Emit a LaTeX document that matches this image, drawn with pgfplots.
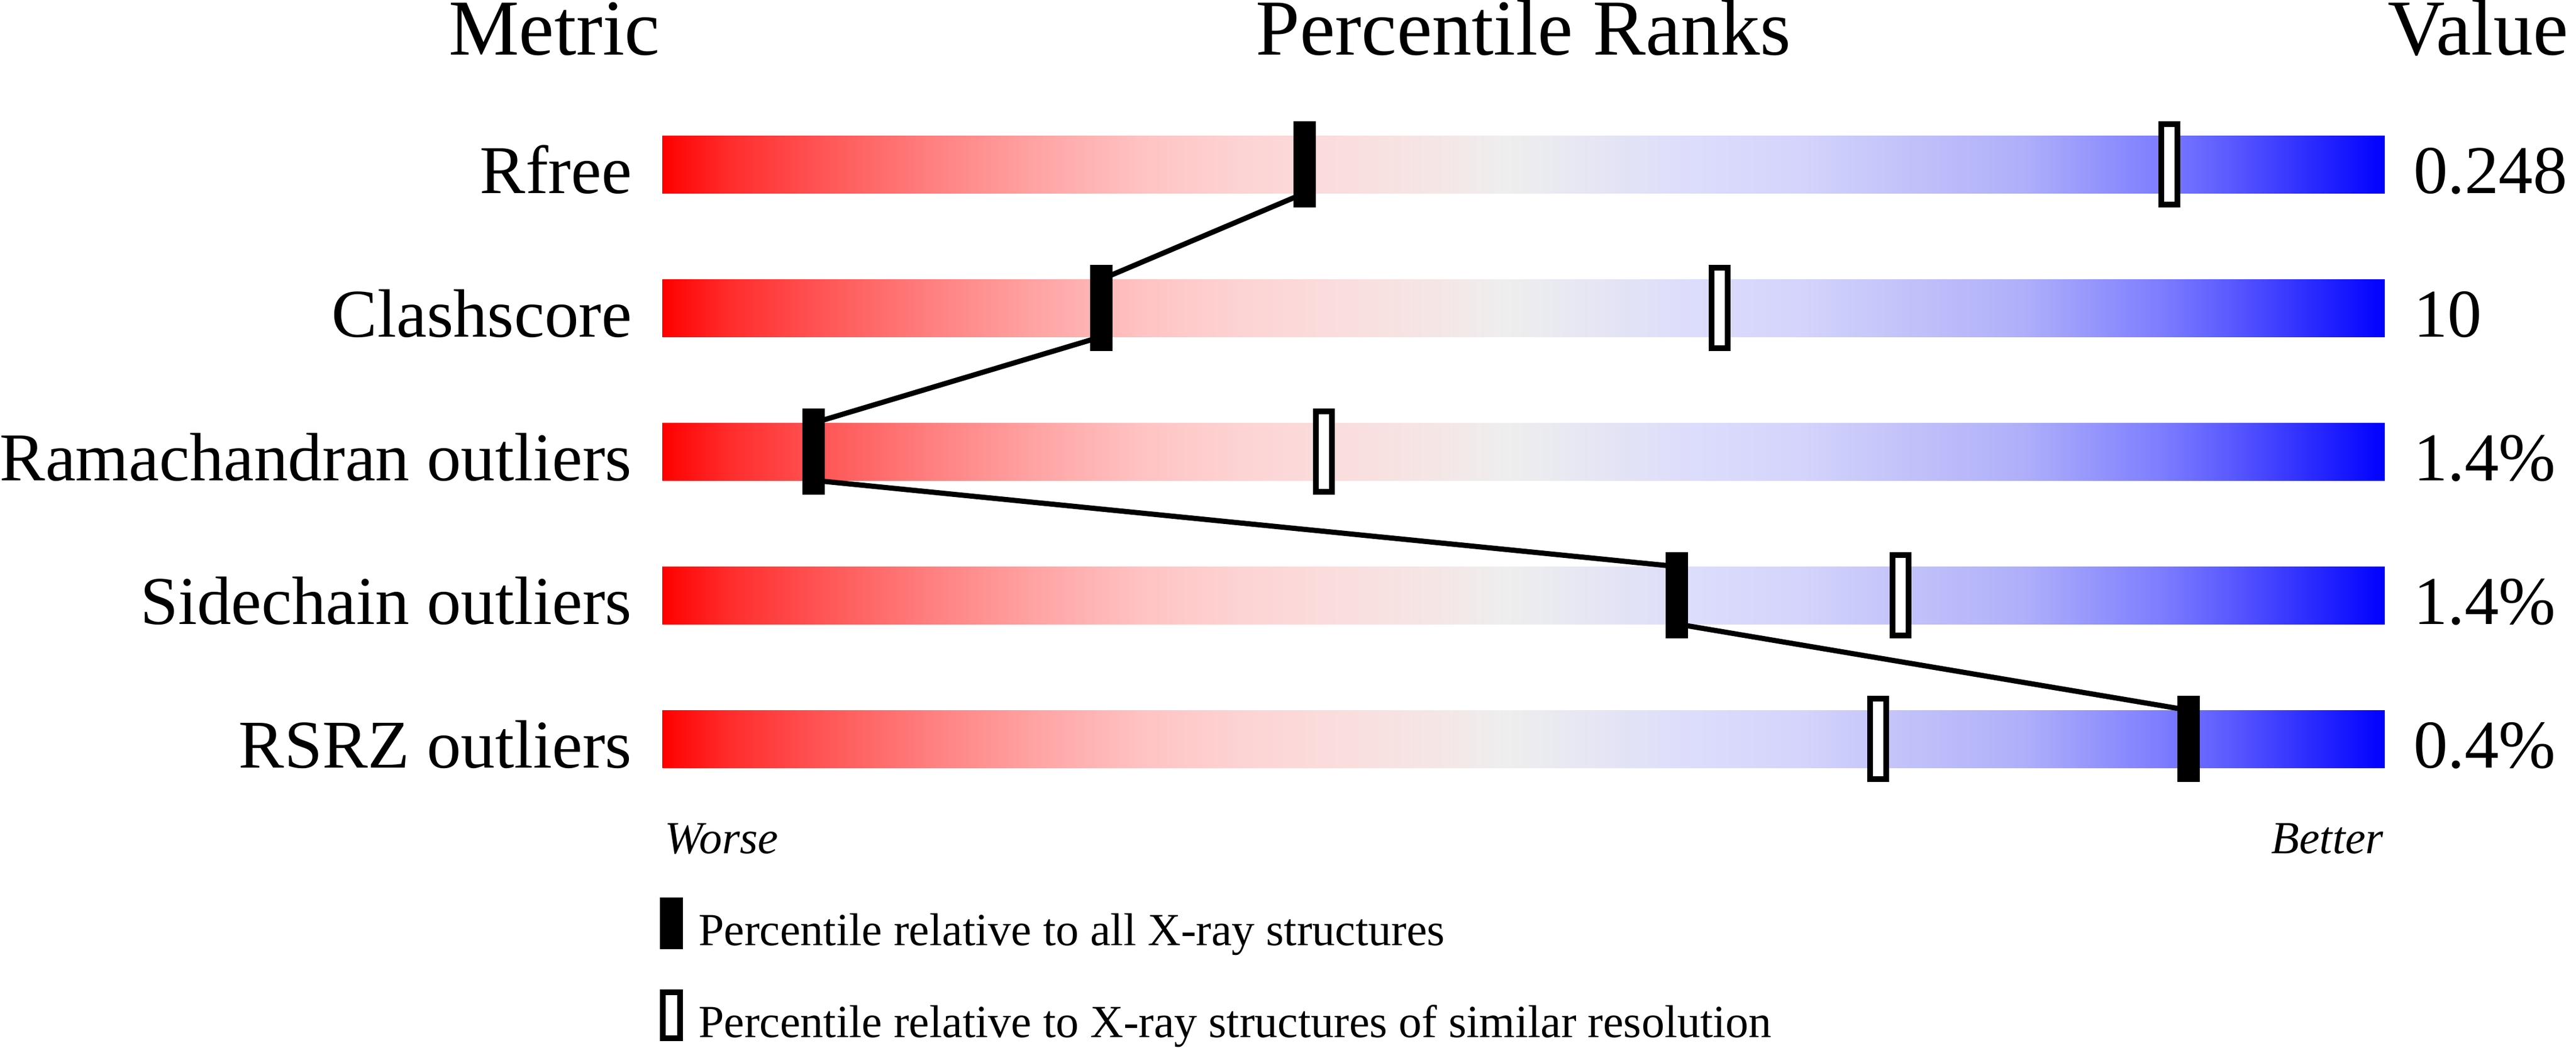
\documentclass[border=0pt]{standalone}
\usepackage{pgfplots}
\pgfplotsset{compat=1.18}
\usepackage{pgfplotstable}
\usepackage{fontspec}
\setmainfont{Liberation Serif}

\definecolor{c0}{RGB}{255,0,0}
\definecolor{c1}{RGB}{255,45,45}
\definecolor{c2}{RGB}{255,90,90}
\definecolor{c3}{RGB}{255,130,130}
\definecolor{c4}{RGB}{255,165,165}
\definecolor{c5}{RGB}{255,195,195}
\definecolor{c6}{RGB}{253,212,212}
\definecolor{c7}{RGB}{250,222,222}
\definecolor{c8}{RGB}{245,230,230}
\definecolor{c9}{RGB}{238,238,238}
\definecolor{c10}{RGB}{228,228,245}
\definecolor{c11}{RGB}{220,220,252}
\definecolor{c12}{RGB}{212,212,252}
\definecolor{c13}{RGB}{200,200,250}
\definecolor{c14}{RGB}{175,175,250}
\definecolor{c15}{RGB}{125,125,255}
\definecolor{c16}{RGB}{90,90,255}
\definecolor{c17}{RGB}{0,0,255}

\pgfdeclarehorizontalshading{pdb}{100bp}{color(0bp)=(c0); color(25bp)=(c0);
 color(27bp)=(c1); color(30bp)=(c2); color(33bp)=(c3); color(36bp)=(c4);
 color(39bp)=(c5); color(42bp)=(c6); color(45bp)=(c7); color(47.5bp)=(c8);
 color(49.5bp)=(c9); color(52.5bp)=(c10); color(55bp)=(c11); color(58bp)=(c12);
 color(60bp)=(c13); color(64.5bp)=(c14); color(68.5bp)=(c15); color(70.5bp)=(c16);
 color(75bp)=(c17); color(100bp)=(c17)}

\pgfdeclareplotmark{pctall}{%
  \pgfpathrectangle{\pgfpoint{-1.95bp}{-7.5bp}}{\pgfpoint{3.9bp}{15bp}}%
  \pgfusepathqfill}
\pgfdeclareplotmark{pctsim}{%
  \pgfpathrectangle{\pgfpoint{-1.4bp}{-7.0bp}}{\pgfpoint{2.8bp}{14bp}}%
  \pgfusepathqfillstroke}
\pgfdeclareplotmark{legall}{%
  \pgfpathrectangle{\pgfpoint{-2bp}{-4.5bp}}{\pgfpoint{4bp}{9bp}}%
  \pgfusepathqfill}
\pgfdeclareplotmark{legsim}{%
  \pgfpathrectangle{\pgfpoint{-1.5bp}{-4.0bp}}{\pgfpoint{3bp}{8bp}}%
  \pgfusepathqfillstroke}

\pgfplotstableread{
row all similar
0 37.3 87.5
1 25.5 61.4
2 8.8 38.4
3 58.9 71.9
4 88.6 70.6
}\pct

\tikzset{lab/.style={anchor=base east, inner sep=0pt, font=\fontsize{11.9bp}{14bp}\selectfont},
         val/.style={anchor=base west, inner sep=0pt, font=\fontsize{11.9bp}{14bp}\selectfont},
         ttl/.style={inner sep=0pt, font=\fontsize{13.8bp}{16bp}\selectfont},
         sml/.style={inner sep=0pt, font=\fontsize{8bp}{10bp}\selectfont}}

\begin{document}
\begin{tikzpicture}
\begin{axis}[
  name=ax, scale only axis, width=448.5bp, height=182.4bp,
  xmin=-38.446, xmax=111.104, ymin=-1.144, ymax=6.152,
  y dir=reverse, axis lines=none, clip=false,
]
\coordinate (sw) at (rel axis cs:0,0);
\coordinate (ne) at (rel axis cs:1,1);
% gradient bars
\addplot[xbar, bar width=10bp, draw=none, shade, shading=pdb] coordinates {(100,0)};
\addplot[xbar, bar width=10bp, draw=none, shade, shading=pdb] coordinates {(100,1)};
\addplot[xbar, bar width=10bp, draw=none, shade, shading=pdb] coordinates {(100,2)};
\addplot[xbar, bar width=10bp, draw=none, shade, shading=pdb] coordinates {(100,3)};
\addplot[xbar, bar width=10bp, draw=none, shade, shading=pdb] coordinates {(100,4)};
% connecting line
\addplot[black, line width=0.9bp, mark=none] coordinates {
  (37.3,0.2) (25.5,0.8) (25.5,1.2) (8.8,1.8) (8.8,2.2) (58.9,2.8) (58.9,3.2) (88.6,3.8)};
% markers
\addplot[only marks, mark=pctsim, mark options={fill=white, draw=black, line width=1bp}]
  table[x=similar, y=row] {\pct};
\addplot[only marks, mark=pctall, mark options={fill=black, draw=none}]
  table[x=all, y=row] {\pct};
% legend marks
\addplot[only marks, mark=legall, mark options={fill=black, draw=none}] coordinates {(0.53,5.284)};
\addplot[only marks, mark=legsim, mark options={fill=white, draw=black, line width=1bp}] coordinates {(0.53,5.924)};

% titles
\node[ttl, anchor=base east] at (axis cs:-0.07,-0.764) {Metric};
\node[ttl, anchor=base] at (axis cs:50,-0.764) {Percentile Ranks};
\node[ttl, anchor=base west] at (axis cs:100.1,-0.764) {Value};
% row labels
\node[lab] at (axis cs:-1.70,0.2) {Rfree};
\node[lab] at (axis cs:-1.70,1.2) {Clashscore};
\node[lab] at (axis cs:-1.70,2.2) {Ramachandran outliers};
\node[lab] at (axis cs:-1.70,3.2) {Sidechain outliers};
\node[lab] at (axis cs:-1.70,4.2) {RSRZ outliers};
% values
\node[val] at (axis cs:101.6,0.2) {0.248};
\node[val] at (axis cs:101.6,1.2) {10};
\node[val] at (axis cs:101.6,2.2) {1.4\%};
\node[val] at (axis cs:101.6,3.2) {1.4\%};
\node[val] at (axis cs:101.6,4.2) {0.4\%};
% worse / better
\node[sml, anchor=base west, font=\fontsize{8bp}{10bp}\selectfont\itshape] at (axis cs:0.1,4.796) {Worse};
\node[sml, anchor=base east, font=\fontsize{8bp}{10bp}\selectfont\itshape] at (axis cs:100,4.796) {Better};
% legend text
\node[sml, anchor=base west] at (axis cs:2.04,5.436) {Percentile relative to all X-ray structures};
\node[sml, anchor=base west] at (axis cs:2.04,6.076) {Percentile relative to X-ray structures of similar resolution};
\end{axis}
\pgfresetboundingbox
\path[use as bounding box] (sw) rectangle (ne);
\end{tikzpicture}
\end{document}
